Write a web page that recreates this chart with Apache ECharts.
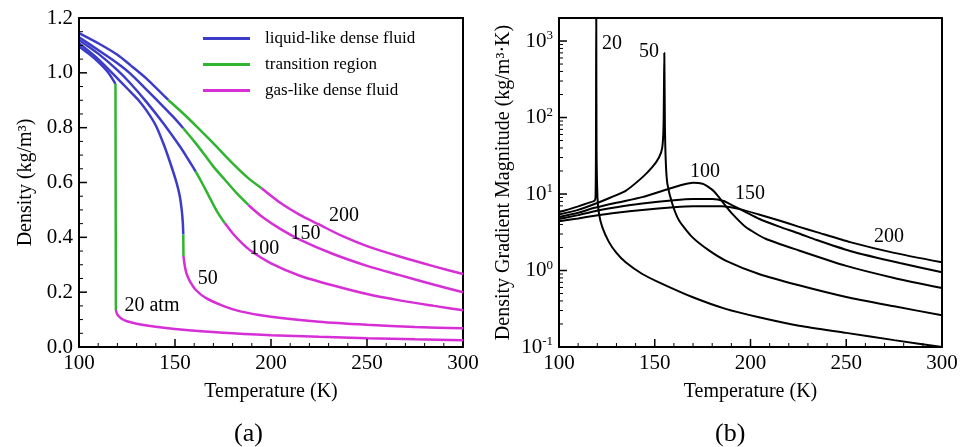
<!DOCTYPE html>
<html>
<head>
<meta charset="utf-8">
<script src="https://cdn.jsdelivr.net/npm/echarts@6/dist/echarts.min.js"></script>
<style>
  html, body { margin: 0; padding: 0; background: #fff; }
  #chart { width: 963px; height: 447px; }
</style>
</head>
<body>
<div id="chart"></div>
<script>
// (a) density vs temperature, one array per segment and pressure
const liq20 = [[100,1.096],[105,1.07],[110,1.04],[115,1.003],[119,0.96]];
const tr20  = [[119,0.96],[119.1,0.55],[119.2,0.135]];
const gas20 = [[119.2,0.135],[120,0.118],[122,0.104],[125,0.094],[130,0.085],[140,0.074],[150,0.066],[175,0.052],[200,0.043],[225,0.037],[250,0.032],[275,0.028],[300,0.025]];

const liq50 = [[100,1.108],[110,1.05],[120,0.98],[126.6,0.932],[131,0.9],[135.2,0.862],[140,0.808],[143.9,0.743],[147.5,0.672],[150.9,0.597],[152.5,0.55],[153.5,0.5],[154.1,0.45],[154.3,0.41]];
const tr50  = [[154.3,0.41],[154.4,0.332]];
const gas50 = [[154.4,0.332],[155,0.3],[156,0.268],[158,0.237],[161,0.207],[166,0.179],[175,0.15],[184,0.13],[200,0.11],[225,0.092],[250,0.081],[275,0.073],[300,0.068]];

const liq100 = [[100,1.12],[110,1.07],[120,1.01],[126.6,0.963],[135,0.895],[143.9,0.816],[152.6,0.731],[157,0.683],[160.8,0.64]];
const tr100  = [[160.8,0.64],[164.7,0.59],[168.2,0.543],[172,0.493],[176,0.451]];
const gas100 = [[176,0.451],[180,0.415],[185,0.378],[190,0.348],[200,0.305],[215,0.26],[232,0.225],[250,0.193],[267,0.17],[285,0.15],[300,0.134]];

const liq150 = [[100,1.13],[110,1.083],[120,1.035],[126.6,0.998],[135,0.94],[143.9,0.877],[149,0.84],[154.3,0.798]];
const tr150  = [[154.3,0.798],[160,0.75],[165,0.705],[170,0.658],[176,0.61],[182,0.562],[188.2,0.518]];
const gas150 = [[188.2,0.518],[195,0.477],[205,0.43],[215,0.392],[232,0.34],[250,0.296],[267,0.262],[285,0.227],[300,0.2]];

const liq200 = [[100,1.145],[110,1.108],[120,1.066],[126.6,1.029],[135,0.98],[146.5,0.901]];
const tr200  = [[146.5,0.901],[155,0.847],[163,0.792],[170,0.743],[180,0.67],[188,0.617],[195.1,0.579]];
const gas200 = [[195.1,0.579],[205,0.525],[215,0.482],[225,0.447],[237,0.405],[250,0.368],[267,0.33],[285,0.294],[300,0.266]];

const labelsA = [[238,0.478,'200'],[218,0.412,'150'],[196.5,0.358,'100'],[167,0.248,'50'],[138,0.15,'20 atm']];

// (b) density gradient magnitude (log scale)
const grad20 = [[100,5.8],[105,6.3],[110,6.9],[115,7.6],[118.6,8.2],[119.1,9.5],[119.3,40],[119.45,3000],[119.6,40],[120.1,9],[120.9,5.5],[122.6,3.7],[126.1,2.35],[130,1.7],[134.8,1.28],[143.5,0.9],[152.2,0.7],[169.6,0.45],[187,0.315],[204.4,0.245],[225.3,0.19],[250,0.153],[275,0.123],[300,0.1]];
const grad50 = [[100,5.4],[110,6.2],[118.6,7.4],[127,9],[135,11.1],[143.5,16.5],[148.7,22.4],[152.2,30],[153.9,40],[154.6,80],[155,700],[155.3,80],[155.8,25],[156.6,13.6],[159.2,7.4],[162.7,4.5],[169.6,2.73],[178.3,1.83],[187,1.35],[204.4,0.9],[225.3,0.64],[250,0.45],[275,0.34],[300,0.26]];
const grad100 = [[100,5.0],[110,5.7],[118.6,6.6],[130,7.7],[143.5,9.1],[157.4,11.7],[165,13.3],[170,14],[175,13.6],[178.3,12.2],[181,10.8],[183.5,9.1],[187,7],[190.5,5.5],[197.5,3.7],[207.9,2.6],[225.3,1.83],[250,1.15],[275,0.8],[300,0.59]];
const grad150 = [[100,4.7],[110,5.3],[118.6,5.97],[130,6.7],[143.5,7.5],[160,8.3],[170,8.6],[180,8.6],[186,8.1],[190.5,7.1],[197,5.9],[204.4,4.75],[215,3.75],[225.3,3.05],[234.6,2.5],[252,1.8],[278,1.25],[300,0.95]];
const grad200 = [[100,4.4],[110,4.8],[118.6,5.2],[130,5.7],[143.5,6.2],[160,6.7],[170,6.9],[185,6.9],[195,6.3],[204.4,5.4],[215,4.5],[225,3.75],[235,3.15],[252,2.35],[275,1.7],[300,1.28]];

const labelsB = [[127.7,927,'20'],[147,729,'50'],[176.2,19.7,'100'],[199.7,10.2,'150'],[272.3,2.78,'200']];

// tick values (drawn pointing into the plot)
const tempMajor = [150, 200, 250];
const tempMinor = [];
for (let t = 110; t < 300; t += 10) if (t % 50) tempMinor.push(t);
const densMajor = [0.2, 0.4, 0.6, 0.8, 1.0];
const densMinor = [];
for (let i = 1; i < 24; i++) if (i % 4) densMinor.push(+(i * 0.05).toFixed(2));
const logMajor = [1, 10, 100, 1000];
const logMinor = [];
[0.1, 1, 10, 100, 1000].forEach(d => { for (let k = 2; k <= 9; k++) if (d*k <= 2000) logMinor.push(+(d*k).toPrecision(3)); });

const FONT = "'Liberation Serif','Times New Roman',serif";
const INK = '#000';
const BLUE = '#3c3cc8', GREEN = '#2fb52f', MAGENTA = '#d62fd6';
const LIQ = 'liquid-like dense fluid', TR = 'transition region', GAS = 'gas-like dense fluid';

(()=>{
  "use strict";
  let chart = echarts.init(document.getElementById('chart'), null, {renderer: 'canvas'});

  let base = {
    axisLine: {show: true, onZero: false, lineStyle: {color: INK, width: 2}},
    axisTick: {show: false},
    splitLine: {show: false},
    axisLabel: {show: true, color: INK, fontFamily: FONT, fontSize: 21, margin: 6},
    nameTextStyle: {color: INK, fontFamily: FONT, fontSize: 20},
    nameLocation: 'middle', z: 10
  };
  // plain frame edge (top / right) for a grid
  let edge = (gi, pos, type, min, max) => ({
    type: type, gridIndex: gi, position: pos, min: min, max: max,
    axisLine: {show: true, onZero: false, lineStyle: {color: INK, width: 2}},
    axisTick: {show: false}, axisLabel: {show: false}, splitLine: {show: false}
  });
  // inward tick marks placed through the axis scales
  let tickSeries = (gi, pts, vertical, len, w) => ({
    type: 'custom', xAxisIndex: gi, yAxisIndex: gi, data: pts, silent: true, z: 6,
    renderItem: (params, api) => {
      let p = api.coord([api.value(0), api.value(1)]);
      let shape = vertical
        ? {x1: p[0], y1: p[1], x2: p[0], y2: p[1] - len}
        : {x1: p[0], y1: p[1], x2: p[0] + len, y2: p[1]};
      return {type: 'line', shape: shape, style: {stroke: INK, lineWidth: w}};
    }
  });

  let segs = [
    [liq20, tr20, gas20], [liq50, tr50, gas50], [liq100, tr100, gas100],
    [liq150, tr150, gas150], [liq200, tr200, gas200]
  ];
  let names = [LIQ, TR, GAS], cols = [BLUE, GREEN, MAGENTA];
  let series = [];
  for (let s = 0; s < 3; s++) {
    segs.forEach(curve => {
      series.push({
        type: 'line', name: names[s], xAxisIndex: 0, yAxisIndex: 0,
        data: curve[s], showSymbol: false, symbol: 'none', color: cols[s],
        smooth: 0.25,
        lineStyle: {color: cols[s], width: 2.5}, z: 3
      });
    });
  }
  [grad20, grad50, grad100, grad150, grad200].forEach(d => {
    series.push({
      type: 'line', xAxisIndex: 1, yAxisIndex: 1, data: d,
      showSymbol: false, symbol: 'none', color: '#000',
      smooth: 0.2,
      lineStyle: {color: '#000', width: 2}, z: 3
    });
  });
  let lblSeries = (data, xi, yi) => ({
    type: 'scatter', xAxisIndex: xi, yAxisIndex: yi, data: data, symbolSize: 0,
    silent: true, z: 5, itemStyle: {opacity: 1},
    label: {show: true, position: 'inside', formatter: p => p.data[2],
      color: INK, fontFamily: FONT, fontSize: 20, opacity: 1}
  });
  series.push(lblSeries(labelsA, 0, 0));
  series.push(lblSeries(labelsB, 1, 1));

  // ticks: panel (a)
  series.push(tickSeries(0, tempMajor.map(t => [t, 0]), true, 8, 1.5));
  series.push(tickSeries(0, tempMinor.map(t => [t, 0]), true, 4, 1));
  series.push(tickSeries(0, densMajor.map(v => [100, v]), false, 8, 1.5));
  series.push(tickSeries(0, densMinor.map(v => [100, v]), false, 4, 1));
  // ticks: panel (b)
  series.push(tickSeries(1, tempMajor.map(t => [t, 0.1]), true, 8, 1.5));
  series.push(tickSeries(1, tempMinor.map(t => [t, 0.1]), true, 4, 1));
  series.push(tickSeries(1, logMajor.map(v => [100, v]), false, 8, 1.5));
  series.push(tickSeries(1, logMinor.map(v => [100, v]), false, 4, 1));

  let option = {
    animation: false,
    backgroundColor: '#fff',
    textStyle: {fontFamily: FONT},
    title: [
      {text: '(a)', left: 229, top: 416, textStyle: {fontFamily: FONT, fontSize: 26, fontWeight: 'normal', color: INK}},
      {text: '(b)', left: 710, top: 416, textStyle: {fontFamily: FONT, fontSize: 26, fontWeight: 'normal', color: INK}}
    ],
    legend: {
      data: [LIQ, TR, GAS], orient: 'vertical', left: 203, top: 30, padding: 0,
      icon: 'rect', itemWidth: 47, itemHeight: 3, itemGap: 9,
      textStyle: {fontFamily: FONT, fontSize: 17, color: INK, padding: [0,0,0,10]},
      selectedMode: false
    },
    grid: [
      {left: 79, top: 18, width: 384, height: 329, show: false},
      {left: 559, top: 18, width: 383, height: 329, show: false}
    ],
    xAxis: [
      Object.assign({}, base, {
        type: 'value', gridIndex: 0, position: 'bottom', min: 100, max: 300, interval: 50,
        name: 'Temperature (K)', nameGap: 35
      }),
      Object.assign({}, base, {
        type: 'value', gridIndex: 1, position: 'bottom', min: 100, max: 300, interval: 50,
        name: 'Temperature (K)', nameGap: 35
      }),
      edge(0, 'top', 'value', 100, 300),
      edge(1, 'top', 'value', 100, 300)
    ],
    yAxis: [
      Object.assign({}, base, {
        type: 'value', gridIndex: 0, position: 'left', min: 0, max: 1.2, interval: 0.2,
        axisLabel: Object.assign({}, base.axisLabel, {formatter: v => v.toFixed(1)}),
        name: 'Density (kg/m³)', nameGap: 43
      }),
      Object.assign({}, base, {
        type: 'log', logBase: 10, gridIndex: 1, min: 0.1, max: 2000, position: 'left', offset: 0,
        axisLabel: Object.assign({}, base.axisLabel, {
          formatter: v => {
            let e = Math.round(Math.log10(v));
            if (Math.abs(Math.log10(v) - e) > 1e-6) return '';
            return '10{s|' + e + '}';
          },
          rich: {s: {fontFamily: FONT, fontSize: 13, color: INK, padding: [0, 0, 10, 0]}}
        }),
        name: 'Density Gradient Magnitude (kg/m³·K)', nameGap: 45
      }),
      edge(0, 'right', 'value', 0, 1.2),
      edge(1, 'right', 'log', 0.1, 2000)
    ],
    series: series
  };
  chart.setOption(option);
})();
</script>
</body>
</html>
